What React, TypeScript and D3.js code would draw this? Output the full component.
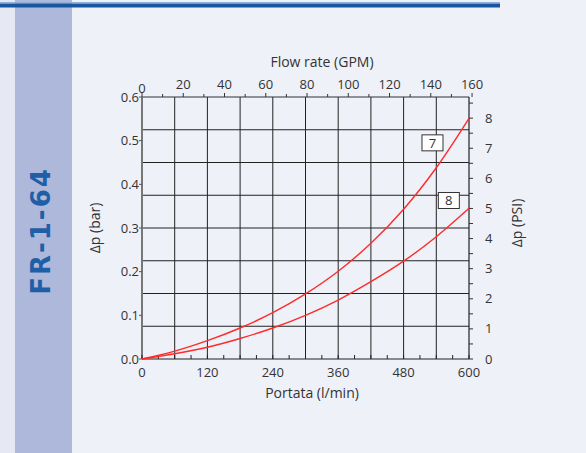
import React from "react";
import * as d3 from "d3";

const flowLpm = [0, 60, 120, 180, 240, 300, 360, 420, 480, 540, 600];
const series7 = [0, 0.018, 0.042, 0.071, 0.106, 0.149, 0.201, 0.265, 0.343, 0.438, 0.551];
const series8 = [0, 0.012, 0.027, 0.047, 0.071, 0.1, 0.135, 0.177, 0.224, 0.28, 0.345];
const seriesNames = ["7", "8"];
const labelAnchors = [
  { q: 533, dp: 0.495 },
  { q: 563, dp: 0.363 },
];
const bottomTickLabels = [0, 120, 240, 360, 480, 600];
const leftTickLabels = [0, 0.1, 0.2, 0.3, 0.4, 0.5, 0.6];
const topTickLabels = [0, 20, 40, 60, 80, 100, 120, 140, 160];
const rightTickLabels = [0, 1, 2, 3, 4, 5, 6, 7, 8];

const LPM_PER_GPM = 3.785;
const BAR_TO_PSI = 14.5038;

export default function App() {
  const W = 586, H = 453;
  const x0 = 142, x1 = 469, y0 = 97, y1 = 359;
  const x = d3.scaleLinear().domain([0, 600]).range([x0, x1]);
  const y = d3.scaleLinear().domain([0, 0.6]).range([y1, y0]);
  const xg = d3.scaleLinear().domain([0, 600 / LPM_PER_GPM]).range([x0, x1]);
  const yp = d3.scaleLinear().domain([0, 0.6 * BAR_TO_PSI]).range([y1, y0]);

  const line = d3
    .line<[number, number]>()
    .x((d) => x(d[0]))
    .y((d) => y(d[1]))
    .curve(d3.curveCatmullRom.alpha(0.5));

  const font = "'Open Sans', 'DejaVu Sans', sans-serif";
  const txt = "#333";

  const vGrid = d3.range(60, 600, 60);
  const hGrid = d3.range(1, 8).map((i) => (0.6 * i) / 8);
  const bottomTicks = d3.range(0, 601, 30);
  const topTicks = d3.range(0, 161, 10);
  const rightTicks = d3.range(0, 8.71, 0.5);

  return (
    <svg width={W} height={H} style={{ display: "block", position: "absolute", left: 0, top: 0 }}>
      <rect x={0} y={0} width={W} height={H} fill="#eef1f8" />
      <rect x={0} y={0} width={15} height={H} fill="#e6e9f3" />
      <rect x={15} y={0} width={57} height={H} fill="#adb8da" />
      <rect x={0} y={2} width={500} height={1.2} fill="#8fb0d8" />
      <rect x={0} y={3.5} width={500} height={4} fill="#1a56a0" />
      <text
        transform={`translate(50,231) rotate(-90)`}
        textAnchor="middle"
        fontFamily="'DejaVu Sans', sans-serif"
        fontWeight="bold"
        fontSize={26}
        letterSpacing={2}
        fill="#1f5fa8"
      >
        FR-1-64
      </text>

      {/* grid */}
      {vGrid.map((v) => (
        <line key={"v" + v} x1={x(v)} x2={x(v)} y1={y0} y2={y1} stroke="#222" strokeWidth={1} />
      ))}
      {hGrid.map((v) => (
        <line key={"h" + v} x1={x0} x2={x1} y1={y(v)} y2={y(v)} stroke="#222" strokeWidth={1} />
      ))}

      {/* axes */}
      <line x1={x0} x2={x1} y1={y0} y2={y0} stroke="#333" strokeWidth={1.2} />
      <line x1={x0} x2={x1} y1={y1} y2={y1} stroke="#222" strokeWidth={1.2} />
      <line x1={x1} x2={x1} y1={y0} y2={y1} stroke="#222" strokeWidth={1.2} />
      <line x1={x0} x2={x0} y1={y0} y2={y1} stroke="#777" strokeWidth={2} />

      {bottomTicks.map((v) => (
        <line key={"bt" + v} x1={x(v)} x2={x(v)} y1={y1} y2={y1 - 4} stroke="#222" />
      ))}
      {bottomTickLabels.map((v) => (
        <text key={"bl" + v} x={x(v)} y={377} textAnchor="middle" fontFamily={font} fontSize={13} fill={txt}>
          {v}
        </text>
      ))}
      {leftTickLabels.map((v) => (
        <g key={"l" + v}>
          <line x1={x0 - 3} x2={x0} y1={y(v)} y2={y(v)} stroke="#555" />
          <text x={x0 - 3} y={y(v)} dy="0.35em" textAnchor="end" fontFamily={font} fontSize={13} fill={txt}>
            {v.toFixed(1)}
          </text>
        </g>
      ))}
      {topTicks.map((v) => (
        <line key={"tt" + v} x1={xg(v)} x2={xg(v)} y1={y0} y2={y0 - (v % 20 === 0 ? 4 : 3)} stroke="#333" />
      ))}
      {topTickLabels.map((v) => (
        <text key={"tl" + v} x={xg(v)} y={v === 0 ? 93 : 89} textAnchor="middle" fontFamily={font} fontSize={13} fill={txt}>
          {v}
        </text>
      ))}
      {rightTicks.map((v) => (
        <line key={"rt" + v} x1={x1} x2={x1 + 4} y1={yp(v)} y2={yp(v)} stroke="#333" />
      ))}
      {rightTickLabels.map((v) => (
        <text key={"rl" + v} x={485} y={yp(v)} dy="0.35em" fontFamily={font} fontSize={13} fill={txt}>
          {v}
        </text>
      ))}

      {/* titles */}
      <text x={322} y={67} textAnchor="middle" fontFamily={font} fontSize={14} fill={txt}>
        Flow rate (GPM)
      </text>
      <text x={312} y={398} textAnchor="middle" fontFamily={font} fontSize={14} fill={txt}>
        Portata (l/min)
      </text>
      <text transform="translate(100,228) rotate(-90)" textAnchor="middle" fontFamily={font} fontSize={14} fill={txt}>
        Δp (bar)
      </text>
      <text transform="translate(522,223) rotate(-90)" textAnchor="middle" fontFamily={font} fontSize={14} fill={txt}>
        Δp (PSI)
      </text>

      {/* curves */}
      {[series7, series8].map((s, i) => (
        <path
          key={"c" + i}
          d={line(flowLpm.map((q, j) => [q, s[j]] as [number, number])) || ""}
          fill="none"
          stroke="#ff2a2a"
          strokeWidth={1.4}
        />
      ))}
      {seriesNames.map((n, i) => (
        <g key={"n" + n} transform={`translate(${x(labelAnchors[i].q)},${y(labelAnchors[i].dp)})`}>
          <rect x={-10.5} y={-8} width={21} height={16} fill="#fff" stroke="#333" strokeWidth={1} />
          <text x={0} y={0} dy="0.36em" textAnchor="middle" fontFamily={font} fontSize={13} fill={txt}>
            {n}
          </text>
        </g>
      ))}
    </svg>
  );
}
